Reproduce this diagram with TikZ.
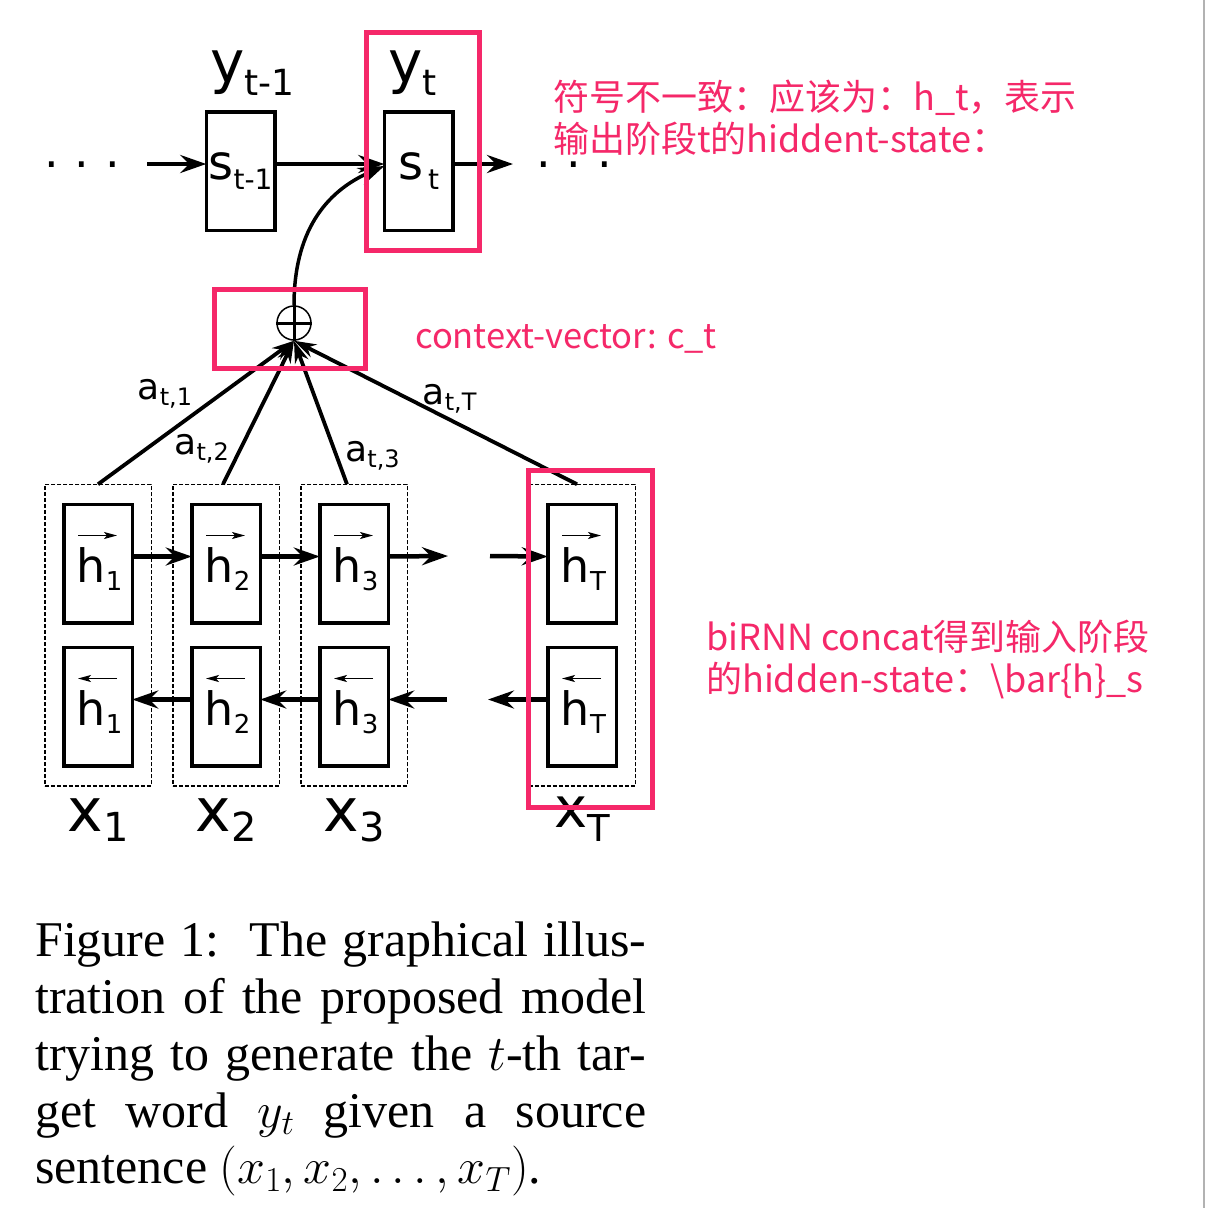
\RequirePackage{fix-cm}
\documentclass[tikz,border=0pt]{standalone}
\usepackage{fontspec}
\setmainfont{Liberation Serif}
\newfontfamily\dejavu{DejaVu Sans}
\newfontfamily\cjk{Noto Sans CJK SC}
\usepackage{tikz}
\usetikzlibrary{arrows.meta, positioning, fit, calc}
\definecolor{notepink}{RGB}{245,40,105}
\newcommand{\sublow}[3]{\raisebox{-#1pt}{\fontsize{#2}{#2}\selectfont #3}}
\newcommand{\hlab}[1]{\rule{0pt}{46pt}\hspace{3pt}h\sublow{8}{26}{#1}}
\tikzset{
  cell/.style={rectangle,draw=black,line width=3.5pt,minimum width=68.5pt,outer sep=0pt,
    minimum height=118.5pt,inner sep=0pt,font=\dejavu\fontsize{46}{46}\selectfont},
  scell/.style={cell,font=\dejavu\fontsize{48}{48}\selectfont},
  colbox/.style={rectangle,draw=black,line width=1.5pt,dash pattern=on 4pt off 2pt,
    inner xsep=19pt,inner ysep=20pt,outer sep=0pt},
  arrow/.style={-{Stealth[length=26pt,width=18pt,inset=9pt]},line width=4.5pt},
  attn/.style={-{Stealth[length=22pt,width=14pt,inset=7pt]},line width=3.8pt},
  overarrow/.style={-{Stealth[length=13pt,width=7pt,inset=3pt]},line width=1.5pt},
  hilite/.style={draw=notepink,line width=5pt},
  note/.style={text=notepink,font=\cjk\fontsize{36}{42}\selectfont,align=left,inner sep=0pt},
  wlabel/.style={font=\dejavu\fontsize{36}{36}\selectfont,inner sep=2pt},
  ylabel/.style={font=\dejavu\fontsize{58}{58}\selectfont,inner sep=0pt},
  xlabel/.style={font=\dejavu\fontsize{60}{60}\selectfont,inner sep=0pt},
  dots/.style={font=\dejavu\fontsize{46}{46}\selectfont,inner sep=0pt,anchor=base}
}
\begin{document}
\begin{tikzpicture}[x=1pt,y=-1pt]
  \fill[white] (0,0) rectangle (1208,1208);
  \useasboundingbox (0,0) rectangle (1208,1208);

  % decoder states
  \node[scell] (s1) at (240.5,171) {s\sublow{10}{28}{t-1}};
  \node[scell, right=109.5pt of s1] (s2) {s\hspace{5pt}\sublow{10}{28}{t}};
  \node[ylabel, above=16pt of s1, xshift=12pt] (y1) {y\sublow{13}{36}{t-1}};
  \node[ylabel, above=16pt of s2, xshift=-6pt] (y2) {y\sublow{13}{36}{t}};
  \node[dots] (ldots) at (82,167) {.\hskip16pt.\hskip16pt.};
  \node[dots] (rdots) at (574,167) {.\hskip16pt.\hskip16pt.};
  \coordinate (sin) at (147,164);
  \coordinate (sout) at (513,164);

  % encoder states
  \node[cell] (hf1) at (98,563.5) {\hlab{1}};
  \node[cell, right=59.5pt of hf1] (hf2) {\hlab{2}};
  \node[cell, right=59.5pt of hf2] (hf3) {\hlab{3}};
  \node[cell, right=159.5pt of hf3] (hfT) {\hlab{T}};
  \node[cell, below=24.5pt of hf1] (hb1) {\hlab{1}};
  \node[cell, below=24.5pt of hf2] (hb2) {\hlab{2}};
  \node[cell, below=24.5pt of hf3] (hb3) {\hlab{3}};
  \node[cell, below=24.5pt of hfT] (hbT) {\hlab{T}};
  \foreach \n in {1,2,3,T} {
    \node[colbox, fit=(hf\n)(hb\n)] (col\n) {};
    \draw[overarrow] ($(hf\n.center)+(-20,-28)$) -- ++(39,0);
    \draw[overarrow] ($(hb\n.center)+(19,-28)$) -- ++(-39,0);
  }
  \node[xlabel, below=13pt of col1] (x1) {x\sublow{10}{40}{1}};
  \node[xlabel, below=13pt of col2] (x2) {x\sublow{10}{40}{2}};
  \node[xlabel, below=13pt of col3] (x3) {x\sublow{10}{40}{3}};
  \node[xlabel, below=11pt of colT, font=\dejavu\fontsize{56}{56}\selectfont] (xT) {x\sublow{14}{37}{T}};
  \coordinate (fgap1) at (448,556);
  \coordinate (fgap2) at (490,556);
  \coordinate (bgap1) at (447,699.5);
  \coordinate (bgap2) at (488,699.5);

  % context vector
  \node[circle, draw, line width=1.5pt, minimum size=34pt, inner sep=0pt] (oplus) at (294,323) {};
  \draw[line width=3pt] (oplus.west) -- (oplus.east);
  \draw[line width=3pt] (oplus.north) -- (oplus.south);

  \draw[arrow] (sin) -- ([yshift=7pt]s1.west);
  \draw[arrow] ([yshift=7pt]s1.east) -- ([yshift=7pt]s2.west);
  \draw[arrow] ([yshift=7pt]s2.east) -- (sout);
  \draw[arrow, line width=3.5pt] (oplus.north) .. controls +(0,-72) and +(-60,26) .. ([yshift=5pt]s2.west);

  \draw[arrow] ([yshift=7pt]hf1.east) -- ([yshift=7pt]hf2.west);
  \draw[arrow] ([yshift=7pt]hf2.east) -- ([yshift=7pt]hf3.west);
  \draw[arrow] ([yshift=7pt]hf3.east) -- (fgap1);
  \draw[arrow] (fgap2) -- ([yshift=7pt]hfT.west);
  \draw[arrow] ([yshift=7pt]hbT.west) -- (bgap2);
  \draw[arrow] (bgap1) -- ([yshift=7pt]hb3.east);
  \draw[arrow] ([yshift=7pt]hb3.west) -- ([yshift=7pt]hb2.east);
  \draw[arrow] ([yshift=7pt]hb2.west) -- ([yshift=7pt]hb1.east);

  \draw[attn] (col1.north) -- node[wlabel, pos=0.5, anchor=south east] (a1) {a\sublow{6}{24}{t,1}} (oplus.south);
  \draw[attn] ([xshift=-3pt]col2.north) -- node[wlabel, pos=0.25, left=8pt] (a2) {a\sublow{6}{24}{t,2}} (oplus.south);
  \draw[attn] ([xshift=-7pt]col3.north) -- node[wlabel, pos=0.2, right=5pt] (a3) {a\sublow{6}{24}{t,3}} (oplus.south);
  \draw[attn] ([xshift=-5pt]colT.north) -- node[wlabel, pos=0.45, above=2pt] (aT) {a\sublow{6}{24}{t,T}} (oplus.south);

  % annotations
  \draw[hilite] (366,32.5) rectangle (479.5,250.5);
  \draw[hilite] (214.5,289.5) rectangle (365.5,368.5);
  \draw[hilite] (528.5,470.5) rectangle (652.5,807.5);
  \node[note, anchor=north west, text depth=0pt] (note1) at (553,80) {符号不一致：应该为：h\_t，表示\\输出阶段t的hiddent-state：};
  \node[note, anchor=base west, font=\cjk\fontsize{34.5}{34.5}\selectfont] (note2) at (415,348) {context-vector: c\_t};
  \node[note, anchor=north west] (note3) at (706,620) {biRNN concat得到输入阶段\\的hidden-state：\textbackslash bar\{h\}\_s};

  % caption
  \node[anchor=north west, inner sep=0pt, align=left, font=\fontsize{50}{56.75}\selectfont] (caption) at (35,922)
    {\makebox[611pt][s]{Figure 1:\ \ The graphical illus-}\\
     \makebox[611pt][s]{tration of the proposed model}\\
     \makebox[611pt][s]{trying to generate the $t$-th tar-}\\
     \makebox[611pt][s]{get word $y_t$ given a source}\\
     sentence $(x_1, x_2, \ldots, x_T)$.};

  \draw[gray!60, line width=2pt] (1204,0) -- (1204,1208);
\end{tikzpicture}
\end{document}
